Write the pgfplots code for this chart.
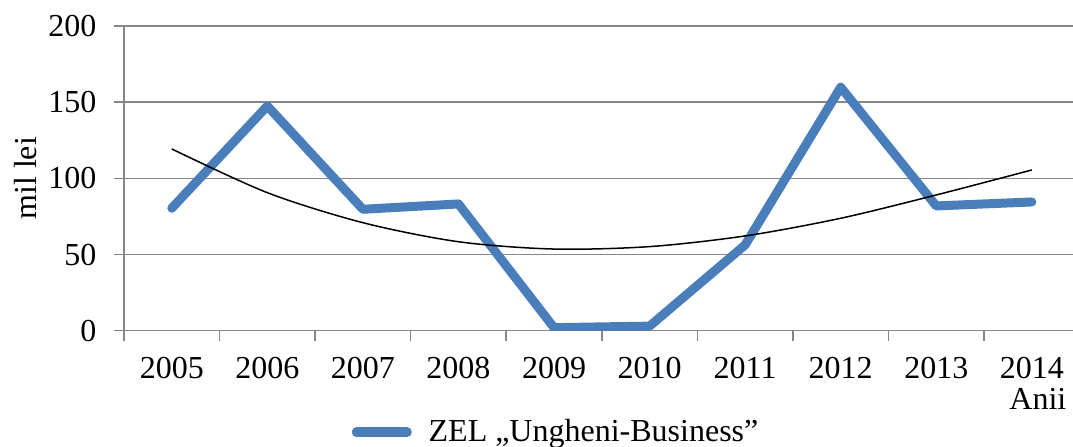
\documentclass[border=0pt]{standalone}
\usepackage{fontspec}
\setmainfont{Liberation Serif}
\usepackage{pgfplots}
\pgfplotsset{compat=1.18}
\definecolor{excelblue}{HTML}{4A7EBB}
\definecolor{gridgray}{HTML}{868686}
\begin{document}
\begin{tikzpicture}
\useasboundingbox (-62pt,-57.65pt) rectangle (474.5pt,165.35pt);
\begin{axis}[
  at={(0pt,0pt)}, anchor=south west,
  scale only axis, width=477.8pt, height=152.35pt,
  xmin=0.5, xmax=10.5, ymin=0, ymax=200,
  axis x line*=bottom, axis y line*=left,
  axis line style={draw=gridgray, line width=0.75pt},
  xtick={0.5,1.5,...,10.5},
  xticklabels={2005,2006,2007,2008,2009,2010,2011,2012,2013,2014,{}},
  ytick={0,50,100,150,200},
  ymajorgrids,
  grid style={draw=gridgray, line width=0.75pt},
  tick style={draw=gridgray, line width=0.75pt},
  tick align=outside,
  major tick length=5pt,
  /pgf/number format/assume math mode=true,
  every tick label/.append style={font=\fontsize{16}{19}\selectfont, inner sep=0pt},
  xticklabel style={anchor=base, xshift=23.89pt, yshift=-18.65pt},
  yticklabel style={anchor=east, xshift=-8.65pt},
  ylabel={mil lei},
  ylabel style={at={(axis description cs:-0.10255,0.5)}, anchor=center, font=\fontsize{16}{19}\selectfont},
  xlabel={Anii},
  xlabel style={at={(axis description cs:0.9865,-0.2570)}, anchor=base east, inner sep=0pt, font=\fontsize{16}{19}\selectfont},
  legend style={at={(axis description cs:0.2383,-0.3334)}, anchor=west, draw=none, inner sep=0pt, outer sep=0pt,
    font=\fontsize{16}{19}\selectfont, /tikz/every even column/.append style={column sep=0pt}},
  legend image code/.code={\draw[#1, line width=4.85pt, line cap=round] (2.4pt,0pt) -- (27.6pt,0pt); \path (34.2pt,0pt);},
  legend cell align=left,
]
\addplot[color=excelblue, line width=4.5pt, line join=round, line cap=round]
  coordinates {(1,80.4) (2,147.5) (3,79.7) (4,83.2) (5,2) (6,3) (7,56.3) (8,159.8) (9,81.9) (10,84.5)};
\addlegendentry{ZEL „Ungheni-Business”}
\addplot[black, line width=0.75pt, smooth, forget plot]
  coordinates {(1,119.3) (2,90.6) (3,70.9) (4,58.4) (5,53.6) (6,55.2) (7,62.2) (8,73.8) (9,89.1) (10,105.5)};
\end{axis}
\end{tikzpicture}
\end{document}
